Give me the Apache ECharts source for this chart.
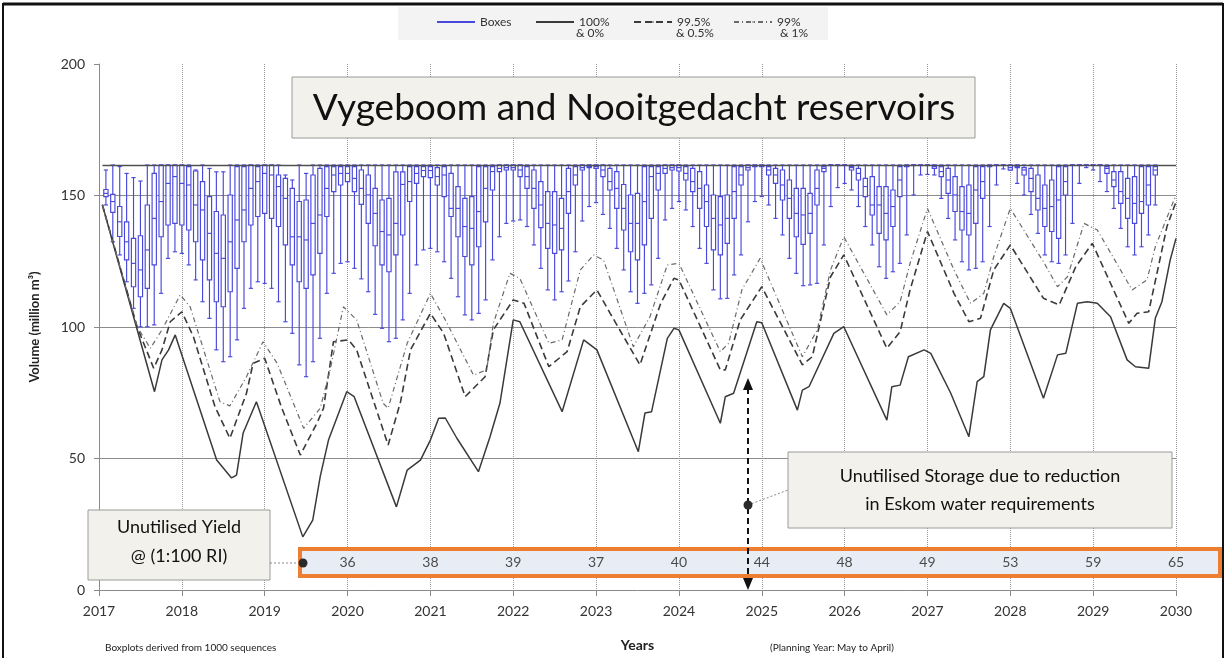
<!DOCTYPE html>
<html>
<head>
<meta charset="utf-8">
<script src="https://cdn.jsdelivr.net/npm/echarts@6/dist/echarts.min.js"></script>
<style>
html,body{margin:0;padding:0;background:#fff;}
#chart{width:1227px;height:658px;}
</style>
</head>
<body>
<div id="chart"></div>
<script>
// ---------- DATA ----------
const yearTicks = [2017,2018,2019,2020,2021,2022,2023,2024,2025,2026,2027,2028,2029,2030];
const fullSupply = 161.6;

// Monthly boxplots (1000 sequences), month k = 1..153 after Jan 2017
const boxLow = [146.4,132.4,127.4,117.2,107.1,100.1,100.1,100.8,112.8,126.1,128.6,128.0,123.6,117.9,109.6,103.3,91.3,86.8,88.7,95.1,107.1,114.7,117.2,116.6,114.7,109.6,102.0,97.6,85.6,81.1,
86.8,95.7,112.8,120.4,124.2,124.8,122.3,118.3,113.4,104.8,99.5,94.4,95.7,102.7,112.8,123.6,129.3,129.9,128.6,124.8,118.5,111.5,104.6,102.7,105.2,110.3,125.5,134.3,139.4,140.3,140.7,138.2,
131.2,122.3,114.1,110.3,113.4,117.5,128.6,140.3,145.8,147.3,142.8,137.5,129.9,121.7,113.4,109.0,112.8,116.0,126.1,140.7,145.1,147.7,144.5,138.2,129.9,124.2,114.1,110.7,110.9,119.8,127.4,
140.0,147.7,149.6,146.4,141.3,135.0,126.1,120.4,115.7,116.0,116.6,131.2,145.8,153.0,154.6,152.1,145.8,138.2,131.2,122.9,118.5,121.0,124.2,135.0,150.2,157.8,158.0,157.8,148.9,141.3,
133.1,124.8,121.7,122.3,124.8,138.2,154.0,160.1,159.7,154.6,150.2,142.8,135.6,127.4,124.8,124.2,127.4,139.4,154.6,160.6,159.7,155.3,151.5,145.1,137.5,130.5,127.4,130.5,135.0,146.4];
const boxQ1 = [149.6,143.6,134.4,125.5,115.3,111.5,114.7,123.6,134.3,138.8,139.4,138.8,136.9,132.4,125.5,117.9,109.6,107.7,113.4,122.3,132.4,138.8,142.0,143.2,141.3,138.2,131.2,123.6,117.2,114.7,
119.8,128.0,142.0,151.5,154.0,155.3,151.5,146.6,139.4,130.9,123.6,121.0,127.4,135.0,147.7,154.6,157.2,156.8,154.0,149.6,142.0,134.3,126.8,123.6,130.5,140.0,152.1,159.1,159.7,159.7,157.2,152.7,
145.1,137.8,129.9,128.0,129.3,143.2,154.0,159.7,160.6,160.3,157.2,152.1,145.1,136.9,128.6,125.5,131.2,141.3,152.1,158.4,159.7,159.3,155.9,151.5,145.1,138.2,129.3,127.4,131.8,141.3,154.0,
159.7,161.0,161.0,157.8,154.6,148.3,141.3,134.3,131.4,135.6,146.4,159.1,161.6,161.6,161.6,159.7,155.9,149.6,142.6,135.6,133.1,138.2,149.6,161.0,161.6,161.6,161.6,160.3,157.2,150.8,
143.9,136.9,135.0,139.4,148.9,161.0,161.6,161.6,159.7,160.6,157.8,151.5,144.5,138.2,136.3,133.7,150.2,161.6,161.6,161.6,161.6,161.6,158.4,153.4,147.0,141.3,139.4,143.2,146.4,157.8];
const boxMed = [150.8,147.7,140.0,132.4,124.2,121.7,129.3,141.3,147.7,154.6,157.2,154.6,154.0,146.4,144.5,135.6,128.0,126.1,132.4,140.7,144.5,152.7,155.3,158.4,157.8,153.4,148.9,134.3,134.3,133.1,
139.4,142.6,152.7,157.8,158.4,158.4,156.5,152.7,150.2,143.2,136.3,135.0,139.4,154.2,155.3,158.4,159.5,159.5,157.2,157.8,145.1,145.1,138.2,137.5,143.9,152.7,159.1,160.3,160.6,160.6,159.7,157.2,
152.7,146.4,139.4,138.8,137.5,151.5,157.8,160.6,161.0,161.0,159.7,155.3,152.7,145.1,139.4,139.4,147.7,157.2,158.4,160.3,160.6,160.6,158.4,155.3,152.7,147.7,141.3,138.8,141.3,151.5,157.8,
160.6,161.3,161.3,159.7,157.8,154.0,148.9,143.2,142.6,143.2,152.7,160.3,161.6,161.6,161.6,160.6,158.4,153.4,146.4,146.4,143.2,145.8,155.9,161.3,161.6,161.6,161.6,161.0,159.1,155.9,
150.2,143.9,143.2,152.1,155.3,161.3,161.6,161.6,160.6,161.0,159.7,156.5,148.9,145.1,145.8,148.3,155.3,161.6,161.6,161.6,161.6,161.6,160.3,155.9,151.5,148.9,147.0,147.7,154.0,159.7];
const boxQ3 = [152.3,150.4,145.8,140.0,133.7,134.7,146.4,158.4,161.6,161.6,161.6,161.6,161.0,159.3,155.3,149.6,143.9,142.6,150.2,161.0,161.0,161.6,161.0,161.6,161.6,157.8,156.5,152.7,147.7,148.3,
157.8,160.3,161.0,161.0,161.0,161.0,161.0,159.7,157.8,152.7,148.3,148.9,159.0,159.0,161.0,161.0,161.0,161.0,160.6,161.0,158.4,153.4,148.9,149.6,161.0,161.0,161.0,161.6,161.6,161.6,161.6,161.0,
159.7,155.3,151.5,151.5,148.9,160.3,161.0,161.6,161.6,161.6,161.6,160.3,159.1,154.2,150.2,150.8,161.0,161.0,161.0,161.6,161.6,161.6,161.0,160.3,159.1,154.0,150.2,149.6,150.2,161.0,161.0,
161.6,161.6,161.6,161.0,160.3,159.7,155.9,152.7,152.7,150.8,159.7,161.0,161.6,161.6,161.6,161.0,160.3,156.5,157.2,153.4,153.4,152.1,161.0,161.6,161.6,161.6,161.6,161.6,161.0,160.3,
157.2,153.4,154.0,161.0,161.0,161.6,161.6,161.6,161.6,161.6,160.6,160.3,157.8,154.0,155.9,161.0,161.0,161.6,161.6,161.6,161.6,161.6,161.0,159.1,159.1,156.5,157.2,161.0,161.0,161.0];
const boxHigh = [159.7,161.6,161.0,158.4,156.8,155.5,161.6,161.6,161.6,161.6,161.6,161.6,161.6,159.7,161.6,160.3,159.0,159.0,161.6,161.6,161.6,161.6,161.6,161.6,161.6,161.6,157.8,155.9,161.6,158.4,
161.6,161.6,161.6,161.6,161.6,161.6,161.6,161.6,161.6,161.6,161.6,161.6,161.6,161.6,161.6,161.6,161.6,161.6,161.6,161.6,161.6,161.6,161.6,161.6,161.6,161.6,161.6,161.6,161.6,161.6,161.6,161.6,
161.6,161.6,161.6,161.6,161.6,161.6,161.6,161.6,161.6,161.6,161.6,161.6,161.6,161.6,161.6,161.6,161.6,161.6,161.6,161.6,161.6,161.6,161.6,161.6,161.6,161.6,161.6,161.6,161.6,161.6,161.6,
161.6,161.6,161.6,161.6,161.6,161.6,161.6,161.6,161.6,161.6,161.6,161.6,161.6,161.6,161.6,161.6,161.6,161.6,161.6,161.6,161.6,161.6,161.6,161.6,161.6,161.6,161.6,161.6,161.6,161.6,
161.6,161.6,161.6,161.6,161.6,161.6,161.6,161.6,161.6,161.6,161.6,161.6,161.6,161.6,161.6,161.6,161.6,161.6,161.6,161.6,161.6,161.6,161.6,161.6,161.6,161.6,161.6,161.6,161.6,161.6];

// 100% & 0% (solid)
const line100X = [2017.04,2017.67,2017.76,2017.84,2017.92,2018.42,2018.6,2018.66,2018.74,2018.9,2019.46,2019.58,2019.67,2019.77,2019.99,2020.08,2020.59,2020.72,2020.88,2021.0,2021.1,2021.18,2021.32,2021.58,2021.72,2021.84,2022.0,2022.08,2022.59,2022.85,2023.01,2023.51,2023.59,2023.67,2023.86,2023.94,2024.0,2024.5,2024.56,2024.66,2024.94,2025.0,2025.43,2025.49,2025.57,2025.87,2025.99,2026.51,2026.57,2026.67,2026.77,2026.96,2027.04,2027.28,2027.5,2027.6,2027.68,2027.76,2027.92,2028.0,2028.4,2028.57,2028.67,2028.81,2028.93,2029.05,2029.21,2029.41,2029.51,2029.67,2029.75,2029.83,2029.93,2030.0];
const line100Y = [146.5,75.4,87.5,91.3,97.0,49.4,42.6,43.7,59.7,71.6,20.2,26.6,43.1,57.0,75.4,73.5,31.6,45.6,49.4,57.0,65.3,65.4,57.7,45.0,58.3,71.1,102.7,102.0,67.8,95.1,91.3,52.6,67.3,67.8,95.7,99.5,98.9,63.4,73.5,74.8,102.0,101.6,68.4,76.0,77.3,97.6,100.1,64.6,77.3,77.9,88.7,91.3,90.0,74.9,58.3,79.2,81.1,98.9,109.0,107.1,72.9,89.4,90.0,109.0,109.6,109.0,103.9,87.5,84.9,84.3,103.3,109.6,125.5,133.7];
// 99.5% & 0.5% (dashed)
const line995X = [2017.04,2017.46,2017.66,2017.76,2017.86,2018.0,2018.14,2018.4,2018.58,2018.78,2018.86,2019.0,2019.2,2019.43,2019.63,2019.71,2019.83,2020.01,2020.11,2020.49,2020.64,2020.76,2021.0,2021.16,2021.42,2021.66,2021.76,2022.0,2022.13,2022.43,2022.65,2022.81,2023.01,2023.17,2023.53,2023.78,2023.94,2024.0,2024.5,2024.56,2024.74,2025.0,2025.49,2025.61,2025.83,2025.99,2026.51,2026.67,2026.79,2027.0,2027.32,2027.5,2027.64,2027.8,2028.0,2028.4,2028.59,2028.79,2028.99,2029.43,2029.53,2029.67,2029.77,2029.89,2030.0];
const line995Y = [146.5,100.1,84.3,91.3,102.0,105.8,96.3,69.7,57.7,74.8,86.2,88.1,69.7,51.3,63.4,69.1,94.4,95.1,91.3,55.1,71.6,91.3,105.2,97.6,73.5,81.1,98.9,110.3,109.0,84.9,90.6,107.7,114.1,105.2,85.6,109.0,118.5,117.9,83.7,83.7,102.7,115.3,85.6,88.7,119.1,127.4,91.9,98.2,114.1,136.3,112.8,102.0,103.3,121.7,131.2,110.9,108.4,122.9,131.8,101.4,105.2,105.8,120.4,138.1,147.6];
// 99% & 1% (dash-dot)
const line99X = [2017.04,2017.46,2017.62,2017.76,2017.98,2018.1,2018.46,2018.58,2018.78,2018.98,2019.15,2019.47,2019.67,2019.79,2019.95,2020.11,2020.43,2020.49,2020.72,2021.0,2021.18,2021.52,2021.68,2021.76,2021.96,2022.08,2022.43,2022.59,2022.81,2022.97,2023.09,2023.45,2023.65,2023.86,2024.0,2024.5,2024.6,2024.76,2024.98,2025.49,2025.67,2025.83,2025.99,2026.51,2026.67,2026.79,2027.0,2027.32,2027.52,2027.68,2027.8,2028.0,2028.4,2028.57,2028.69,2028.89,2029.05,2029.47,2029.65,2029.75,2030.0];
const line99Y = [146.5,100.1,91.9,98.9,112.2,107.7,71.6,70.0,81.1,94.4,86.2,61.5,69.1,83.7,107.7,102.7,71.0,69.1,93.8,112.8,102.7,81.7,83.7,101.4,120.4,118.5,93.8,95.1,121.7,127.4,125.5,92.5,103.9,123.6,124.2,90.6,93.8,114.1,126.1,88.7,98.9,121.7,134.3,104.6,109.6,124.2,145.1,121.7,109.0,112.8,126.7,145.1,124.8,115.3,119.1,139.4,136.9,114.1,117.9,130.5,150.2];

// Unutilised yield (1:100 RI) per planning year
const yieldYears = [2020,2021,2022,2023,2024,2025,2026,2027,2028,2029,2030];
const yieldValues = [36,38,39,37,40,44,48,49,53,59,65];
const yieldRowLevel = 10.3;

// Legend entries and second lines (exceedance)
const legendNames = ['Boxes', '100%', '99.5%', '99%'];
const legendSub = { '100%': '& 0%', '99.5%': '& 0.5%', '99%': '& 1%' };

// ---------- CHART ----------
const FONT = 'Lato';
const boxColor = '#4848dc';
const months = boxLow.map((_, i) => 2017 + (i + 1) / 12);
const boxData = boxLow.map((v, i) => [months[i], v, boxQ1[i], boxMed[i], boxQ3[i], boxHigh[i]]);
const zip = (xs, ys) => xs.map((x, i) => [x, ys[i]]);

function renderBox(params, api) {
  const x = api.value(0);
  const lo = api.coord([x, api.value(1)]);
  const q1 = api.coord([x, api.value(2)]);
  const md = api.coord([x, api.value(3)]);
  const q3 = api.coord([x, api.value(4)]);
  const hi = api.coord([x, api.value(5)]);
  const w = api.size([1 / 12, 0])[0] * 0.62;
  const st = { stroke: boxColor, lineWidth: 1.15, fill: null };
  const children = [
    { type: 'line', shape: { x1: lo[0], y1: lo[1], x2: lo[0], y2: q1[1] }, style: st },
    { type: 'line', shape: { x1: hi[0], y1: q3[1], x2: hi[0], y2: hi[1] }, style: st },
    { type: 'line', shape: { x1: lo[0] - w / 2, y1: lo[1], x2: lo[0] + w / 2, y2: lo[1] }, style: st },
    { type: 'line', shape: { x1: hi[0] - w / 2, y1: hi[1], x2: hi[0] + w / 2, y2: hi[1] }, style: st },
    { type: 'rect', shape: { x: q1[0] - w / 2, y: q3[1], width: w, height: Math.max(q1[1] - q3[1], 0.5) },
      style: { stroke: boxColor, lineWidth: 1.15, fill: 'rgba(255,255,255,0.85)' } },
    { type: 'line', shape: { x1: md[0] - w / 2, y1: md[1], x2: md[0] + w / 2, y2: md[1] }, style: st }
  ];
  return { type: 'group', children };
}

const legendLefts = [432, 530, 628, 728];
const legendBase = {
  top: 11, itemWidth: 38, itemHeight: 2, itemGap: 0,
  textStyle: { fontFamily: FONT, fontSize: 12, color: '#333' }
};
const legends = legendNames.map((n, i) => Object.assign({}, legendBase, {
  left: legendLefts[i],
  data: [n === 'Boxes' ? { name: n, icon: 'rect' } : n]
}));

const chart = echarts.init(document.getElementById('chart'), null, { renderer: 'canvas' });
const option = {
  animation: false,
  backgroundColor: '#ffffff',
  textStyle: { fontFamily: FONT },
  grid: { left: 99, right: 51, top: 64, bottom: 68, containLabel: false },
  legend: legends,
  xAxis: {
    type: 'value', min: yearTicks[0], max: yearTicks[yearTicks.length - 1], interval: 1,
    name: 'Years', nameLocation: 'middle', nameGap: 48,
    nameTextStyle: { fontFamily: FONT, fontWeight: 'bold', fontSize: 14, color: '#222' },
    axisLine: { lineStyle: { color: '#8a8a8a' } },
    axisTick: { length: 6, lineStyle: { color: '#8a8a8a' } },
    axisLabel: { formatter: v => String(v), fontFamily: FONT, fontSize: 14, color: '#333', margin: 14 },
    splitLine: { show: true, showMinLine: false, lineStyle: { type: 'dotted', color: '#999', width: 1 } }
  },
  yAxis: {
    type: 'value', min: 0, max: 200, interval: 50,
    name: 'Volume (million m³)', nameLocation: 'middle', nameGap: 58, nameRotate: 90,
    nameTextStyle: { fontFamily: FONT, fontWeight: 'bold', fontSize: 13, color: '#222' },
    axisLine: { show: true, lineStyle: { color: '#8a8a8a' } },
    axisTick: { show: true, length: 5, lineStyle: { color: '#8a8a8a' } },
    axisLabel: { fontFamily: FONT, fontSize: 14, color: '#333', margin: 14 },
    splitLine: { show: true, showMinLine: false, showMaxLine: false, lineStyle: { color: '#8c8c8c', width: 1 } }
  },
  series: [
    {
      name: 'Boxes', type: 'custom', renderItem: renderBox, data: boxData,
      encode: { x: 0, y: [1, 2, 3, 4, 5] }, itemStyle: { color: boxColor }, z: 3,
      markLine: {
        silent: true, symbol: 'none', label: { show: false },
        lineStyle: { color: '#505050', width: 1.3, type: 'solid' },
        data: [[{ coord: [months[0] - 1 / 24, fullSupply] }, { coord: [yearTicks[yearTicks.length - 1], fullSupply] }]]
      }
    },
    {
      name: '100%', type: 'line', data: zip(line100X, line100Y), symbol: 'none', z: 4,
      itemStyle: { color: '#3a3a3a' }, lineStyle: { color: '#3a3a3a', width: 1.5, type: 'solid' }
    },
    {
      name: '99.5%', type: 'line', data: zip(line995X, line995Y), symbol: 'none', z: 4,
      itemStyle: { color: '#3a3a3a' }, lineStyle: { color: '#3a3a3a', width: 1.6, type: [7, 4] }
    },
    {
      name: '99%', type: 'line', data: zip(line99X, line99Y), symbol: 'none', z: 4,
      itemStyle: { color: '#6a6a6a' }, lineStyle: { color: '#6a6a6a', width: 1.2, type: [5, 3, 1, 3] }
    },
    {
      name: 'Unutilised yield', type: 'scatter', symbolSize: 0, z: 30, silent: true,
      data: yieldYears.map((y, i) => [y, yieldRowLevel, yieldValues[i]]),
      label: { show: true, position: 'inside', formatter: p => String(p.data[2]), fontFamily: FONT, fontSize: 14, color: '#222' }
    }
  ],
  graphic: [
    { type: 'rect', z: 0, shape: { x: 3, y: 4, width: 1220, height: 700 }, style: { fill: null, stroke: '#111', lineWidth: 2 } },
    { type: 'line', z: 0, shape: { x1: 3, y1: 4, x2: 1223, y2: 4 }, style: { stroke: '#111', lineWidth: 3 } },
    { type: 'rect', z: 0, shape: { x: 398, y: 7, width: 430, height: 33 }, style: { fill: '#f3f3f3' } },
    { type: 'text', z: 5, x: 576, y: 33, style: { text: legendSub['100%'], fontFamily: FONT, fontSize: 12, fill: '#333', verticalAlign: 'middle' } },
    { type: 'text', z: 5, x: 676, y: 33, style: { text: legendSub['99.5%'], fontFamily: FONT, fontSize: 12, fill: '#333', verticalAlign: 'middle' } },
    { type: 'text', z: 5, x: 780, y: 33, style: { text: legendSub['99%'], fontFamily: FONT, fontSize: 12, fill: '#333', verticalAlign: 'middle' } },
    // title box
    { type: 'rect', z: 10, shape: { x: 292, y: 77, width: 683, height: 61 }, style: { fill: '#f2f1ec', stroke: '#9a9a9a', lineWidth: 1 } },
    { type: 'text', z: 11, x: 634, y: 108, style: { text: 'Vygeboom and Nooitgedacht reservoirs', fontFamily: FONT, fontSize: 37, fill: '#111', align: 'center', verticalAlign: 'middle' } },
    // unutilised yield box
    { type: 'rect', z: 10, shape: { x: 88, y: 510, width: 182, height: 70 }, style: { fill: '#f2f1ec', stroke: '#9a9a9a', lineWidth: 1 } },
    { type: 'text', z: 11, x: 179, y: 542, style: { text: 'Unutilised Yield\n@ (1:100 RI)', fontFamily: FONT, fontSize: 18, lineHeight: 29, fill: '#111', align: 'center', verticalAlign: 'middle' } },
    { type: 'line', z: 10, shape: { x1: 270, y1: 563, x2: 303, y2: 563 }, style: { stroke: '#888', lineWidth: 1, lineDash: [2, 2] } },
    // orange band
    { type: 'rect', z: 10, shape: { x: 300, y: 549, width: 920, height: 27 }, style: { fill: '#e8ecf5', stroke: '#ed7d31', lineWidth: 4 } },
    { type: 'circle', z: 12, shape: { cx: 303, cy: 563, r: 4.5 }, style: { fill: '#2a2a2a' } },
    // storage box
    { type: 'rect', z: 10, shape: { x: 788, y: 452, width: 384, height: 76 }, style: { fill: '#f2f1ec', stroke: '#9a9a9a', lineWidth: 1 } },
    { type: 'text', z: 11, x: 980, y: 490, style: { text: 'Unutilised Storage due to reduction\nin Eskom water requirements', fontFamily: FONT, fontSize: 18, lineHeight: 28, fill: '#111', align: 'center', verticalAlign: 'middle' } },
    { type: 'line', z: 12, shape: { x1: 748, y1: 505, x2: 788, y2: 490 }, style: { stroke: '#888', lineWidth: 1, lineDash: [2, 2] } },
    // dashed double arrow
    { type: 'line', z: 12, shape: { x1: 748, y1: 388, x2: 748, y2: 580 }, style: { stroke: '#111', lineWidth: 2, lineDash: [6, 4] } },
    { type: 'polygon', z: 12, shape: { points: [[748, 378], [743, 390], [753, 390]] }, style: { fill: '#111' } },
    { type: 'polygon', z: 12, shape: { points: [[748, 590], [743, 578], [753, 578]] }, style: { fill: '#111' } },
    { type: 'circle', z: 13, shape: { cx: 748, cy: 505, r: 4.5 }, style: { fill: '#2a2a2a' } },
    // footnotes
    { type: 'text', z: 11, x: 105, y: 648, style: { text: 'Boxplots derived from 1000 sequences', fontFamily: FONT, fontSize: 10, fill: '#222', verticalAlign: 'middle' } },
    { type: 'text', z: 11, x: 770, y: 648, style: { text: '(Planning Year: May to April)', fontFamily: FONT, fontSize: 10, fill: '#222', verticalAlign: 'middle' } }
  ]
};
chart.setOption(option);
</script>
</body>
</html>
